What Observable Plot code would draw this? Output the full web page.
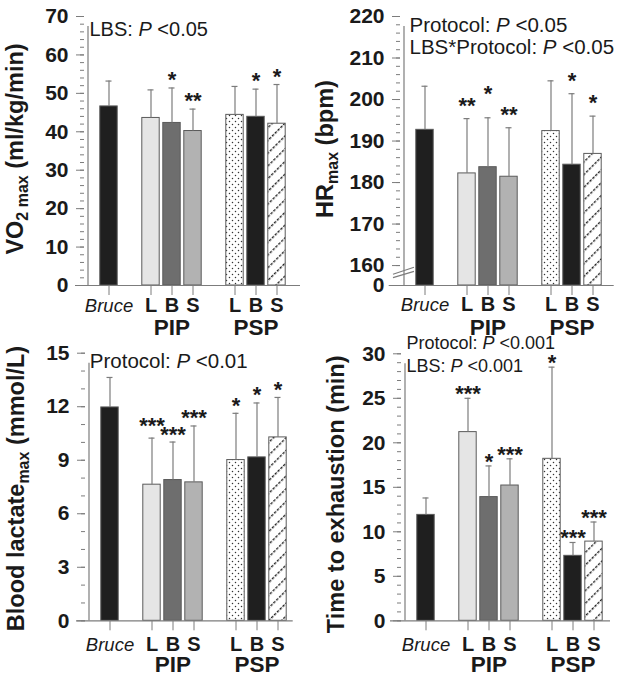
<!DOCTYPE html>
<html>
<head>
<meta charset="utf-8">
<script src="https://cdn.jsdelivr.net/npm/d3@7"></script>
<script src="https://cdn.jsdelivr.net/npm/@observablehq/plot@0.6"></script>
<style>
  body { margin: 0; background: #fff; }
  #grid { display: grid; grid-template-columns: 312px 312px; grid-template-rows: 341px 341px; width: 624px; height: 682px; }
  #grid svg { overflow: visible; display: block; }
</style>
</head>
<body>
<svg width="0" height="0" style="position:absolute">
  <defs>
    <pattern id="dots" patternUnits="userSpaceOnUse" width="6" height="6">
      <rect width="6" height="6" fill="#fff"/>
      <circle cx="1.5" cy="1.5" r="0.75" fill="#333"/>
      <circle cx="4.5" cy="4.5" r="0.75" fill="#333"/>
    </pattern>
    <pattern id="hatch" patternUnits="userSpaceOnUse" width="4" height="9" patternTransform="rotate(-45)">
      <rect width="4" height="9" fill="#fff"/>
      <rect x="0" y="0" width="2.6" height="1.4" fill="#222"/>
    </pattern>
  </defs>
</svg>
<div id="grid"></div>
<script>
// ---------- data ----------
const keys = ["Bruce", "PIP L", "PIP B", "PIP S", "PSP L", "PSP B", "PSP S"];
const tickLabels = ["Bruce", "L", "B", "S", "L", "B", "S"];
const groups = ["PIP", "PSP"];

const vo2Mean = [46.6, 43.6, 42.3, 40.2, 44.4, 43.9, 42.1];
const vo2Sd   = [6.6, 7.3, 9.1, 5.7, 7.4, 7.2, 10.2];
const vo2Sig  = ["", "", "*", "**", "", "*", "*"];

const hrMean = [192.7, 182.2, 183.7, 181.4, 192.4, 184.3, 186.9];
const hrSd   = [10.5, 13.2, 11.9, 11.8, 12.1, 17.1, 9.1];
const hrSig  = ["", "**", "*", "**", "", "*", "*"];

const lacMean = [11.96, 7.63, 7.89, 7.76, 9.01, 9.16, 10.28];
const lacSd   = [1.68, 2.61, 2.13, 3.16, 2.62, 3.05, 2.24];
const lacSig  = ["", "***", "***", "***", "*", "*", "*"];

const timeMean = [11.9, 21.2, 13.9, 15.2, 18.2, 7.3, 8.9];
const timeSd   = [1.9, 3.8, 3.5, 3.0, 10.3, 1.5, 2.2];
const timeSig  = ["", "***", "*", "***", "*", "***", "***"];

const vo2Ticks = [0, 10, 20, 30, 40, 50, 60, 70];
const hrTicks = [160, 170, 180, 190, 200, 210, 220];
const lacTicks = [0, 3, 6, 9, 12, 15];
const timeTicks = [0, 5, 10, 15, 20, 25, 30];

// ---------- styling ----------
const slots = ["_a", "Bruce", "_b", "PIP L", "PIP B", "PIP S", "_c", "PSP L", "PSP B", "PSP S", "_d"];
const barFills = ["#1f1f1f", "#e5e5e5", "#6e6e6e", "#b2b2b2", "url(#dots)", "#1f1f1f", "url(#hatch)"];
const STEP = 21.6;
const AXIS = "#7c7c7c";
const INK = "#1a1a1a";
const FONT = "'Liberation Sans', Arial, Helvetica, sans-serif";

const range = (a, b, s) => d3.range(a, b + s / 2, s);

function buildPanel(cfg) {
  const data = keys.map((k, i) => ({key: k, mean: cfg.mean[i], top: cfg.mean[i] + cfg.sd[i], sig: cfg.sig[i]}));
  const labelRows = keys.map((k, i) => ({key: k, label: tickLabels[i]}));
  const lift = cfg.lift || {};
  const x0 = cfg.axisX - STEP / 2;
  const starOpts = {x: "key", y: "top", text: "sig", lineAnchor: "bottom", fontSize: 22, fontWeight: "bold", fill: INK};
  const marks = [
    Plot.barY(data, {x: "key", y1: cfg.base, y2: "mean", fill: "key", stroke: "#5a5a5a", strokeWidth: 1, insetLeft: 1.8, insetRight: 1.8}),
    Plot.ruleX(data, {x: "key", y1: "mean", y2: "top", stroke: AXIS, strokeWidth: 1.2}),
    Plot.tickY(data, {x: "key", y: "top", stroke: AXIS, strokeWidth: 1.2, insetLeft: 7.5, insetRight: 7.5}),
    Plot.ruleY([cfg.base], {y: d => d, stroke: AXIS, strokeWidth: 1.2, insetLeft: cfg.lineInset[0], insetRight: cfg.lineInset[1]}),
    Plot.ruleX(["_a"], {x: d => d, y1: cfg.base, y2: cfg.domain[1], stroke: AXIS, strokeWidth: 1.2, insetBottom: -10}),
    Plot.axisY({ticks: cfg.minor, tickSize: 4, tickFormat: () => "", stroke: AXIS, label: null}),
    Plot.axisY({ticks: cfg.major, tickSize: 8, tickPadding: 8, tickFormat: cfg.fmt || (d => d), stroke: AXIS, fill: INK, fontSize: 21, fontWeight: "bold", label: null}),
    Plot.axisX({ticks: keys, tickSize: 10, tickFormat: () => "", stroke: AXIS, label: null}),
    Plot.text(labelRows.filter(d => d.key === "Bruce"), {x: "key", text: "label", frameAnchor: "bottom", dy: cfg.labelDy[0], lineAnchor: "bottom", fontStyle: "italic", fontSize: 18.5, fill: INK}),
    Plot.text(labelRows.filter(d => d.key !== "Bruce"), {x: "key", text: "label", frameAnchor: "bottom", dy: cfg.labelDy[0], lineAnchor: "bottom", fontWeight: "bold", fontSize: 20, fill: INK}),
    Plot.text(groups, {x: d => d + " B", text: d => d, frameAnchor: "bottom", dy: cfg.labelDy[1], lineAnchor: "bottom", fontWeight: "bold", fontSize: 22.5, fill: INK}),
    Plot.text(data.filter(d => d.sig && !(d.key in lift)), {...starOpts, dy: cfg.starDy}),
    ...Object.entries(lift).map(([k, v]) => Plot.text(data.filter(d => d.key === k && d.sig), {...starOpts, dy: cfg.starDy + v})),
    ...cfg.notes.map((t, i) => Plot.text([t], {text: d => d, frameAnchor: "top-left", dx: cfg.noteDx, dy: cfg.noteDy[i], lineAnchor: "bottom", textAnchor: "start", fontSize: cfg.noteFs, fill: INK})),
    Plot.text([cfg.title], {text: d => d, frameAnchor: "left", rotate: -90, dx: cfg.titleDx, dy: cfg.titleDy, lineAnchor: "bottom", textAnchor: "middle", fontSize: 23.5, fontWeight: "bold", fill: INK})
  ];
  if (cfg.breakMarks) {
    marks.push(Plot.link(cfg.breakMarks, {x1: () => "_a", x2: () => "Bruce", y1: d => d[0], y2: d => d[1], dx: -11, stroke: AXIS, strokeWidth: 1.2}));
  }
  return Plot.plot({
    width: 312,
    height: 341,
    marginLeft: cfg.axisX,
    marginRight: 0,
    marginTop: cfg.marginTop,
    marginBottom: cfg.marginBottom,
    x: {type: "band", domain: slots, range: [x0, x0 + STEP * slots.length], padding: 0},
    y: {domain: cfg.domain},
    color: {domain: keys, range: barFills},
    style: {fontFamily: FONT, fontSize: "18px", color: INK, overflow: "visible", background: "transparent"},
    marks
  });
}

function rich(svg) {
  d3.select(svg).selectAll("text").each(function () {
    const el = this;
    if (el.childElementCount) return;
    const s = el.textContent;
    if (!/[_~]\{/.test(s)) return;
    const fs = parseFloat(getComputedStyle(el).fontSize) || 18;
    el.textContent = "";
    const parts = s.split(/([_~]\{[^}]*\})/).filter(p => p);
    let shifted = 0;
    for (const p of parts) {
      const t = d3.select(el).append("tspan");
      if (p.startsWith("_{")) {
        const sh = 0.22 * fs;
        t.text(p.slice(2, -1)).attr("font-size", (0.68 * fs).toFixed(1) + "px").attr("dy", sh - shifted);
        shifted = sh;
      } else if (p.startsWith("~{")) {
        t.text(p.slice(2, -1)).attr("font-style", "italic");
        if (shifted) { t.attr("dy", -shifted); shifted = 0; }
      } else {
        t.text(p);
        if (shifted) { t.attr("dy", -shifted); shifted = 0; }
      }
    }
  });
}

const panels = [
  {
    mean: vo2Mean, sd: vo2Sd, sig: vo2Sig, base: 0, domain: [0, 70],
    major: vo2Ticks, minor: range(0, 70, 2),
    axisX: 84, marginTop: 16, marginBottom: 56, lineInset: [-9, 12], labelDy: [26.5, 49],
    notes: ["LBS: ~{P} <0.05"], noteDx: 5, noteDy: [19], noteFs: 20,
    title: "VO_{2 max} (ml/kg/min)", titleDx: -62, titleDy: -2, starDy: -1
  },
  {
    mean: hrMean, sd: hrSd, sig: hrSig, base: 155.2, domain: [155.2, 220],
    major: [155.2, ...hrTicks], minor: range(160, 220, 2), fmt: d => d < 160 ? "0" : d,
    axisX: 88, marginTop: 16, marginBottom: 56, lineInset: [-11.3, 10.3], labelDy: [25.5, 49],
    notes: ["Protocol: ~{P} <0.05", "LBS*Protocol: ~{P} <0.05"], noteDx: 9, noteDy: [15.7, 37.3], noteFs: 20.5,
    title: "HR_{max} (bpm)", titleDx: -68, titleDy: -2, starDy: -6, lift: {"PIP B": -11},
    breakMarks: [[157.9, 159.6], [157.1, 158.6]]
  },
  {
    mean: lacMean, sd: lacSd, sig: lacSig, base: 0, domain: [0, 15],
    major: lacTicks, minor: range(0, 15, 1),
    axisX: 85, marginTop: 11.7, marginBottom: 61.7, lineInset: [-9, 19.3], labelDy: [30.5, 51],
    notes: ["Protocol: ~{P} <0.01"], noteDx: 4.3, noteDy: [14.3], noteFs: 20.5,
    title: "Blood lactate_{max} (mmol/L)", titleDx: -62, titleDy: 1.5, starDy: -0.5, lift: {"PIP L": -5}
  },
  {
    mean: timeMean, sd: timeSd, sig: timeSig, base: 0, domain: [0, 30],
    major: timeTicks, minor: range(0, 30, 1),
    axisX: 89, marginTop: 12.3, marginBottom: 61.7, lineInset: [-11, 14], labelDy: [30, 51],
    notes: ["Protocol: ~{P} <0.001", "LBS: ~{P} <0.001"], noteDx: 5, noteDy: [-5, 17.7], noteFs: 18,
    title: "Time to exhaustion (min)", titleDx: -58, titleDy: 7, starDy: 3
  }
];

const grid = document.getElementById("grid");
for (const cfg of panels) {
  const svg = buildPanel(cfg);
  grid.appendChild(svg);
  rich(svg);
}
</script>
</body>
</html>
